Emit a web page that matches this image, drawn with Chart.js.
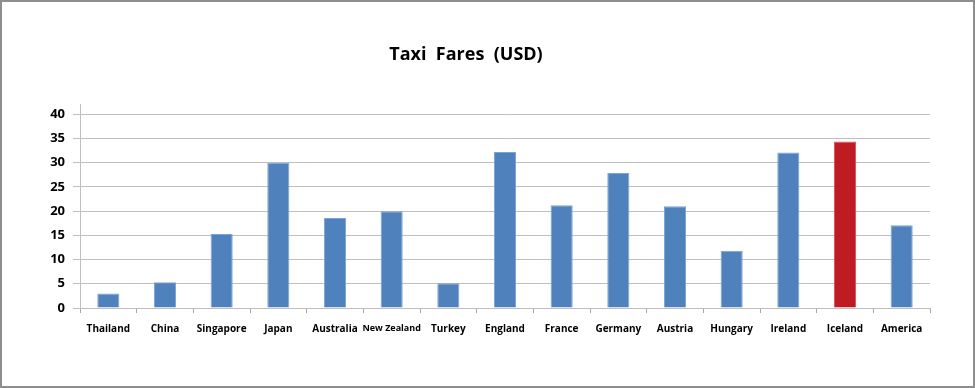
<!DOCTYPE html>
<html>
<head>
<meta charset="utf-8">
<script src="https://cdn.jsdelivr.net/npm/chart.js@4"></script>
<style>
    html, body { margin: 0; padding: 0; background: #fff; }
    #wrap {
        width: 975px;
        height: 388px;
        box-sizing: border-box;
        border: 2px solid #8e8e8e;
        position: relative;
    }
</style>
</head>
<body>
<div id="wrap"><canvas id="fareChart"></canvas></div>
<script>
const countries = ['Thailand', 'China', 'Singapore', 'Japan', 'Australia', 'New Zealand', 'Turkey',
    'England', 'France', 'Germany', 'Austria', 'Hungary', 'Ireland', 'Iceland', 'America'];
const fares = [3.0, 5.3, 15.3, 30.0, 18.6, 20.0, 5.1, 32.2, 21.2, 27.9, 21.0, 11.8, 32.1, 34.4, 17.1];
const highlight = 'Iceland';

const ctx = document.getElementById('fareChart').getContext('2d');

// Iceland is drawn in red, the rest in the usual blue
const fillColors = countries.map(c => c === highlight ? '#be1b22' : '#4f81bd');
const edgeColors = countries.map(c => c === highlight ? '#d9555a' : '#7aa3d6');

const fareChart = new Chart(ctx, {
    type: 'bar',
    data: {
        labels: countries,
        datasets: [{
            label: 'Taxi Fares (USD)',
            data: fares,
            backgroundColor: fillColors,
            borderColor: edgeColors,
            borderWidth: 1,
            barPercentage: 0.39,
            categoryPercentage: 1
        }]
    },
    options: {
        responsive: true,
        maintainAspectRatio: false,
        animation: false,
        layout: {
            padding: { left: 0, right: 43, top: 0, bottom: 0 }
        },
        plugins: {
            legend: { display: false },
            tooltip: { enabled: false },
            title: {
                display: true,
                text: 'Taxi  Fares  (USD)',
                color: '#000',
                font: { family: 'Open Sans', size: 18, weight: 'bold' },
                padding: { top: 42, bottom: 39 }
            }
        },
        scales: {
            x: {
                afterFit: scale => { scale.height = 78; },
                grid: {
                    offset: true,
                    drawOnChartArea: false,
                    drawTicks: true,
                    tickLength: 5,
                    color: '#a6a6a6'
                },
                border: { color: '#bfbfbf', width: 1 },
                ticks: {
                    color: '#000',
                    padding: 10,
                    maxRotation: 0,
                    autoSkip: false,
                    font: ctx => ({
                        family: 'Open Sans',
                        weight: 'bold',
                        // the long label is squeezed a little in the original
                        size: countries[ctx.index] === 'New Zealand' ? 9 : 10
                    })
                }
            },
            y: {
                min: 0,
                max: 42,
                afterFit: scale => { scale.width = 78; },
                afterBuildTicks: axis => {
                    axis.ticks = axis.ticks.filter(t => t.value % 5 === 0);
                },
                grid: {
                    color: '#bfbfbf',
                    tickLength: 7
                },
                border: { color: '#bfbfbf', width: 1 },
                ticks: {
                    stepSize: 5,
                    includeBounds: false,
                    color: '#000',
                    padding: 8,
                    font: { family: 'Open Sans', size: 13, weight: 'bold' }
                }
            }
        }
    }
});
</script>
</body>
</html>
